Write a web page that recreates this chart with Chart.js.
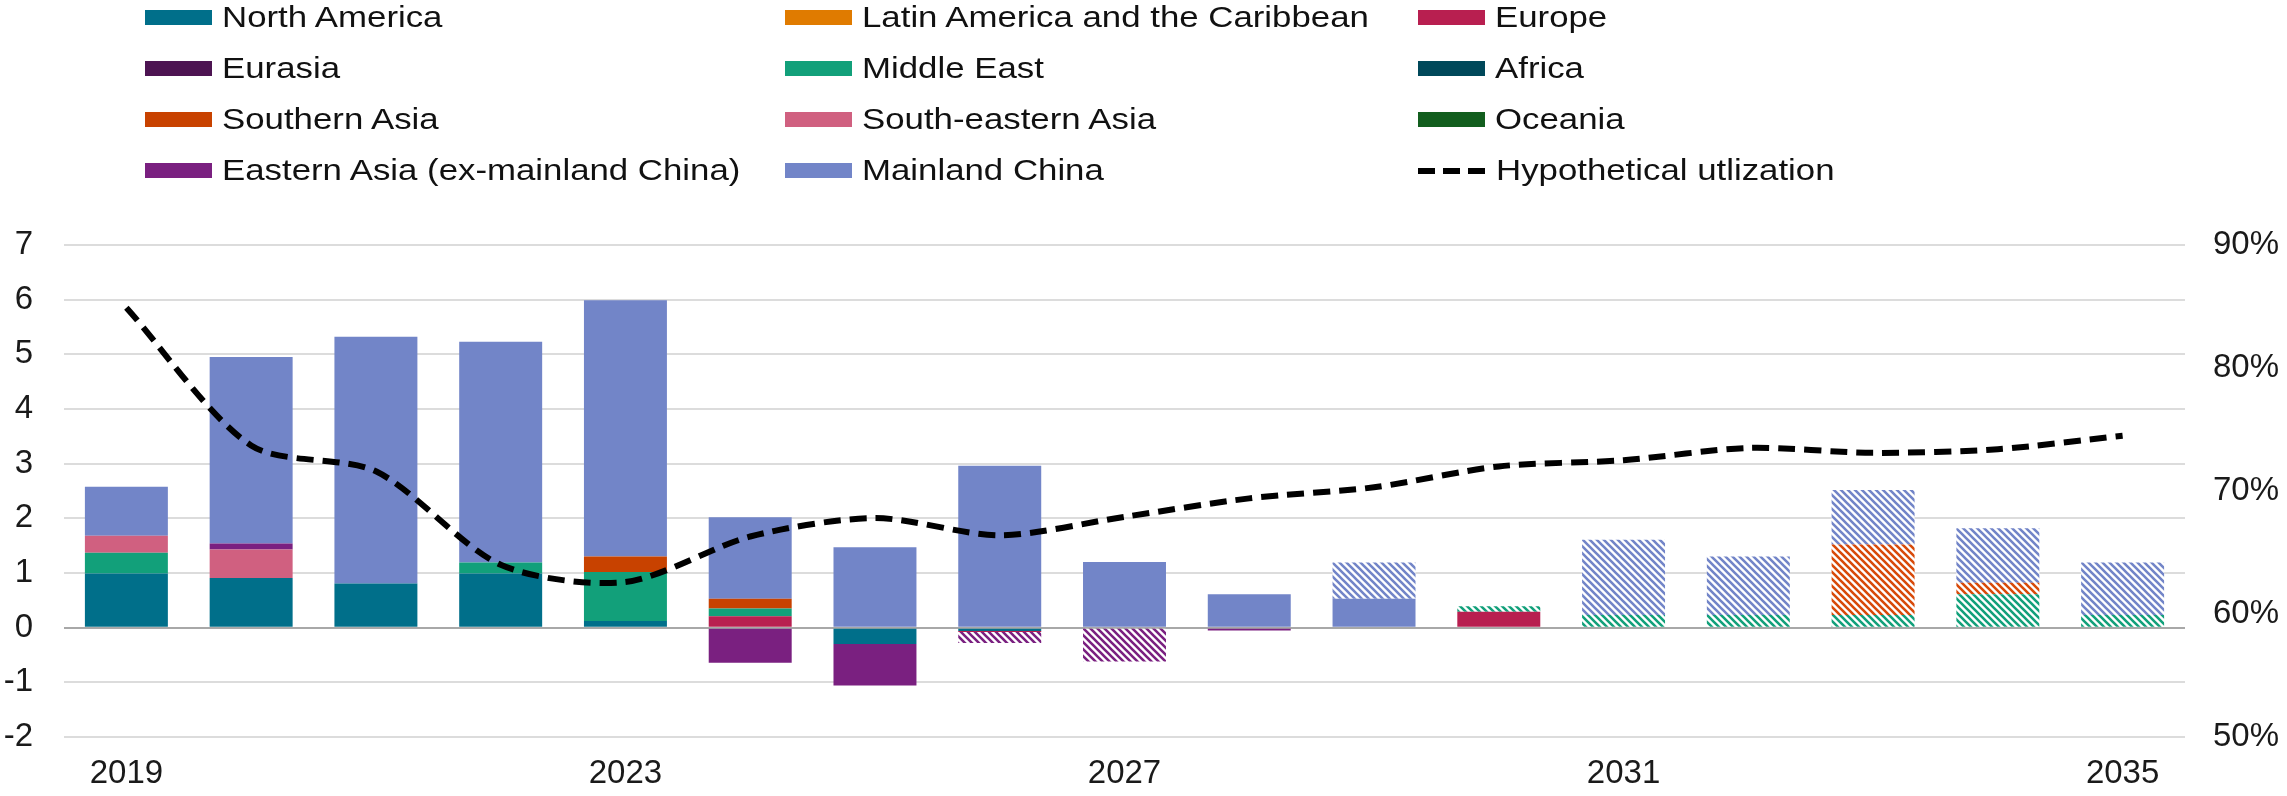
<!DOCTYPE html>
<html>
<head>
<meta charset="utf-8">
<script src="https://cdn.jsdelivr.net/npm/chart.js@4/dist/chart.umd.min.js"></script>
<style>
    html, body { margin: 0; padding: 0; background: #fff; }
    #wrap { position: relative; width: 2287px; height: 796px; }
    #chart { position: absolute; left: 0; top: 0; }
    #legend {
        position: absolute; left: 145px; top: -8px;
        display: grid; grid-template-columns: 640px 633px 420px; grid-auto-rows: 51px;
        font-family: "Liberation Sans", Arial, sans-serif; font-size: 29px; color: #111;
    }
    #legend .item { display: flex; align-items: center; white-space: nowrap; }
    #legend .item span.txt { display: inline-block; transform: scaleX(1.2); transform-origin: left center; }
    #legend .swatch { width: 67px; height: 15px; margin-right: 10px; }
    #legend .dash {
        width: 68px; height: 6px; margin-right: 10px;
        background: repeating-linear-gradient(90deg, #000 0 17px, transparent 17px 25px);
    }
</style>
</head>
<body>
<div id="wrap">
    <canvas id="chart" width="2287" height="796"></canvas>
    <div id="legend"></div>
</div>
<script>
const years = ['2019', '2020', '2021', '2022', '2023', '2024', '2025', '2026', '2027',
               '2028', '2029', '2030', '2031', '2032', '2033', '2034', '2035'];

// actual additions (solid)
const northAmerica  = [0.99, 0.91, 0.81, 0.99, 0.12, 0, -0.30, -0.06, 0, 0, 0, 0, 0, 0, 0, 0, 0];
const latinAmerica  = [0, 0, 0, 0, 0, 0, 0, 0, 0, 0, 0, 0, 0, 0, 0, 0, 0];
const europe        = [0, 0, 0, 0, 0, 0.21, 0, -0.02, 0, 0, 0, 0.29, 0, 0, 0, 0, 0];
const eurasia       = [0, 0, 0, 0, 0, 0, 0, 0, 0, 0, 0, 0, 0, 0, 0, 0, 0];
const middleEast    = [0.38, 0, 0, 0.20, 0.90, 0.14, 0, 0, 0, 0, 0, 0, 0, 0, 0, 0, 0];
const africa        = [0, 0, 0, 0, 0, 0, 0, 0, 0, 0, 0, 0, 0, 0, 0, 0, 0];
const southernAsia  = [0, 0, 0, 0, 0.28, 0.18, 0, 0, 0, 0, 0, 0, 0, 0, 0, 0, 0];
const seAsia        = [0.31, 0.52, 0, 0, 0, 0, 0, 0, 0, 0, 0, 0, 0, 0, 0, 0, 0];
const oceania       = [0, 0, 0, 0, 0, 0, 0, 0, 0, 0, 0, 0, 0, 0, 0, 0, 0];
const eastAsia      = [0, 0.11, 0, 0, 0, -0.64, -0.76, 0, 0, -0.05, 0, 0, 0, 0, 0, 0, 0];
const china         = [0.90, 3.41, 4.51, 4.04, 4.69, 1.49, 1.47, 2.96, 1.20, 0.61, 0.53, 0, 0, 0, 0, 0, 0];

// planned additions (hatched)
const middleEastPlan   = [0, 0, 0, 0, 0, 0, 0, 0, 0, 0, 0, 0.10, 0.23, 0.23, 0.23, 0.61, 0.23];
const southernAsiaPlan = [0, 0, 0, 0, 0, 0, 0, 0, 0, 0, 0, 0, 0, 0, 1.29, 0.21, 0];
const eastAsiaPlan     = [0, 0, 0, 0, 0, 0, 0, -0.20, -0.62, 0, 0, 0, 0, 0, 0, 0, 0];
const chinaPlan        = [0, 0, 0, 0, 0, 0, 0, 0, 0, 0, 0.66, 0, 1.38, 1.07, 1.00, 1.00, 0.96];

// utilization, %
const utilization = [84.9, 73.7, 71.6, 64.0, 62.6, 66.3, 67.8, 66.4, 67.9, 69.4,
                     70.3, 72.0, 72.5, 73.5, 73.1, 73.4, 74.5];

const leftTicks = [7, 6, 5, 4, 3, 2, 1, 0, -1, -2];
const rightTicks = [90, 80, 70, 60, 50];

const FONT = '"Liberation Sans", Arial, sans-serif';

function hatch(color){
    let s = 7;
    let c = document.createElement('canvas');
    c.width = s; c.height = s;
    let g = c.getContext('2d');
    g.fillStyle = '#fff';
    g.fillRect(0, 0, s, s);
    g.strokeStyle = color;
    g.lineWidth = 2.6;
    g.beginPath();
    g.moveTo(-s, -s); g.lineTo(2 * s, 2 * s);
    g.moveTo(0, -s); g.lineTo(2 * s, s);
    g.moveTo(-s, 0); g.lineTo(s, 2 * s);
    g.stroke();
    return document.getElementById('chart').getContext('2d').createPattern(c, 'repeat');
}

function bar(label, data, color, legend){
    return {type: 'bar', label: label, data: data, backgroundColor: color,
            borderWidth: 0, order: 1, stack: 's', legend: legend, swatch: color};
}

const datasets = [
    {
        type: 'line', label: 'Hypothetical utlization', data: utilization, yAxisID: 'y1',
        borderColor: '#000', borderWidth: 6, borderDash: [17, 9], tension: 0.28,
        pointRadius: 0, fill: false, order: 0, legend: true, isLine: true
    },
    bar('North America', northAmerica, '#006f8a', true),
    bar('Latin America and the Caribbean', latinAmerica, '#e07b00', true),
    bar('Europe', europe, '#b81f50', true),
    bar('Eurasia', eurasia, '#4d1452', true),
    bar('Middle East', middleEast, '#12a07a', true),
    bar('Middle East planned', middleEastPlan, hatch('#12a07a'), false),
    bar('Africa', africa, '#00485a', true),
    bar('Southern Asia', southernAsia, '#c84200', true),
    bar('Southern Asia planned', southernAsiaPlan, hatch('#d84a0a'), false),
    bar('South-eastern Asia', seAsia, '#d06080', true),
    bar('Oceania', oceania, '#125e1e', true),
    bar('Eastern Asia (ex-mainland China)', eastAsia, '#7a2080', true),
    bar('Eastern Asia planned', eastAsiaPlan, hatch('#7a2080'), false),
    bar('Mainland China', china, '#7285c8', true),
    bar('Mainland China planned', chinaPlan, hatch('#7285c8'), false)
];

// legend: three columns, row by row, same order as the series
const legendOrder = datasets.filter(d => d.legend && !d.isLine).concat(datasets.filter(d => d.isLine));
let legendEl = document.getElementById('legend');
legendOrder.forEach(function(d){
    let item = document.createElement('div');
    item.className = 'item';
    let mark = document.createElement('span');
    if(d.isLine){
        mark.className = 'dash';
    }else{
        mark.className = 'swatch';
        mark.style.background = d.swatch;
    }
    let txt = document.createElement('span');
    txt.className = 'txt';
    txt.textContent = d.label;
    item.appendChild(mark);
    item.appendChild(txt);
    legendEl.appendChild(item);
});

new Chart(document.getElementById('chart'), {
    type: 'bar',
    data: {labels: years, datasets: datasets},
    options: {
        responsive: false,
        animation: false,
        layout: {padding: {top: 245, left: 0, right: 0, bottom: 0}},
        plugins: {legend: {display: false}, tooltip: {enabled: false}},
        datasets: {bar: {categoryPercentage: 1, barPercentage: 0.665}},
        scales: {
            x: {
                stacked: true,
                grid: {display: false, drawTicks: false},
                border: {display: false},
                ticks: {
                    autoSkip: false, maxRotation: 0, padding: 17,
                    color: '#1a1a1a', font: {family: FONT, size: 33},
                    callback: function(v, i){ return i % 4 === 0 ? years[i] : ''; }
                },
                afterFit: function(s){ s.height = 59; }
            },
            y: {
                stacked: true, min: -2, max: 7,
                afterBuildTicks: function(s){ s.ticks = leftTicks.map(v => ({value: v})); },
                grid: {
                    drawTicks: false, lineWidth: 2,
                    color: ctx => ctx.tick && ctx.tick.value === 0 ? '#a8a8a8' : '#dcdcdc'
                },
                border: {display: false},
                ticks: {padding: 31, color: '#1a1a1a', font: {family: FONT, size: 33}},
                afterFit: function(s){ s.width = 64; }
            },
            y1: {
                position: 'right', min: 50, max: 90,
                afterBuildTicks: function(s){ s.ticks = rightTicks.map(v => ({value: v})); },
                grid: {display: false, drawTicks: false},
                border: {display: false},
                ticks: {
                    padding: 28, color: '#1a1a1a', font: {family: FONT, size: 33},
                    callback: v => v + '%'
                },
                afterFit: function(s){ s.width = 102; }
            }
        }
    }
});
</script>
</body>
</html>
